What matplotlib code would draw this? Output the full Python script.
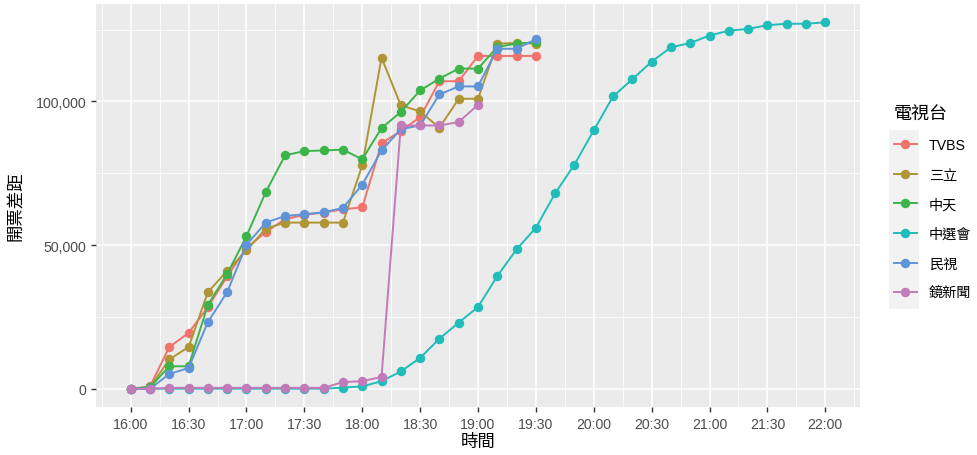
import matplotlib
matplotlib.use("Agg")
import matplotlib.pyplot as plt
from matplotlib.lines import Line2D
from matplotlib.patches import Rectangle
from matplotlib.ticker import FuncFormatter, MultipleLocator

plt.rcParams['font.family'] = ['Liberation Sans', 'Noto Sans CJK TC', 'DejaVu Sans']

# ---------------- data ----------------
times_all = ["16:00", "16:10", "16:20", "16:30", "16:40", "16:50",
             "17:00", "17:10", "17:20", "17:30", "17:40", "17:50",
             "18:00", "18:10", "18:20", "18:30", "18:40", "18:50",
             "19:00", "19:10", "19:20", "19:30", "19:40", "19:50",
             "20:00", "20:10", "20:20", "20:30", "20:40", "20:50",
             "21:00", "21:10", "21:20", "21:30", "21:40", "21:50", "22:00"]

tvbs = [0, 800, 14500, 19400, 28400, 39100, 49000, 54500, 59000, 60500, 61300,
        62400, 63100, 85400, 89700, 94500, 107000, 107000, 115800, 115800,
        115800, 115800]
sanli = [0, 500, 10200, 14500, 33600, 41000, 48100, 55700, 57800, 57800, 57800,
         57800, 77700, 115200, 98600, 96500, 90800, 100900, 100900, 120100,
         120300, 120100]
zhongtian = [0, 500, 7800, 7800, 29200, 39900, 53100, 68400, 81200, 82700, 82900,
             83200, 79800, 90700, 96300, 103800, 107900, 111400, 111400, 118900,
             120100, 120500]
cec = [0, 0, 0, 0, 0, 0, 0, 0, 0, 0, 0, 350, 800, 2600, 6000, 10700, 17400,
       23000, 28400, 39200, 48500, 56000, 68000, 78000, 89900, 101700, 107700,
       113800, 118800, 120300, 122900, 124600, 125200, 126500, 127000, 127000,
       127500]
minshi = [0, 0, 5100, 7200, 23200, 33600, 50100, 57800, 60100, 60700, 61400,
          62900, 71000, 82900, 90300, 91600, 102400, 105200, 105200, 118300,
          118300, 121600]
mirror = [0, 0, 300, 300, 300, 300, 300, 300, 300, 300, 300, 2300, 2600, 4100,
          91600, 91600, 91600, 92800, 98800]

series_names = ["TVBS", "三立", "中天", "中選會", "民視", "鏡新聞"]
series_values = [tvbs, sanli, zhongtian, cec, minshi, mirror]
colors = ["#F0736C", "#AF9535", "#3DB449", "#20BDBA", "#6094D8", "#C27AB9"]

x_tick_labels = ["16:00", "16:30", "17:00", "17:30", "18:00", "18:30", "19:00",
                 "19:30", "20:00", "20:30", "21:00", "21:30", "22:00"]


def to_min(t):
    h, m = t.split(":")
    return (int(h) - 16) * 60 + int(m)


x_all = [to_min(t) for t in times_all]

# ---------------- figure ----------------
fig = plt.figure(figsize=(9.78, 4.56), dpi=100)
W, H = 978, 456
ax = fig.add_axes([96 / W, (H - 408) / H, (860 - 96) / W, (408 - 5) / H])
ax.set_facecolor("#EBEBEB")
for s in ax.spines.values():
    s.set_visible(False)

ax.set_xlim(-18, 378)
ax.set_ylim(-6375, 133875)

ax.xaxis.set_minor_locator(MultipleLocator(15))
ax.yaxis.set_major_locator(MultipleLocator(50000))
ax.yaxis.set_minor_locator(MultipleLocator(25000))
ax.set_xticks([to_min(t) for t in x_tick_labels])
ax.set_xticklabels(x_tick_labels)
ax.yaxis.set_major_formatter(FuncFormatter(lambda v, p: f"{int(v):,}"))

ax.grid(which="major", color="white", linewidth=1.2)
ax.grid(which="minor", color="white", linewidth=0.6)
ax.set_axisbelow(True)
ax.tick_params(which="major", length=3.6, width=1.0, color="#333333",
               labelcolor="#4D4D4D", labelsize=10.2, pad=3.3)
ax.tick_params(which="minor", length=0)

for name, vals, c in zip(series_names, series_values, colors):
    ax.plot(x_all[:len(vals)], vals, color=c, linewidth=1.4, marker="o",
            markersize=5.8, label=name, solid_capstyle="butt")

ax.set_xlabel("時間", fontsize=12.5, color="black")
ax.xaxis.label.set_va("center")
ax.xaxis.set_label_coords(0.5, (408 - 442) / 403)
ax.set_ylabel("開票差距", fontsize=12.5, color="black")
ax.yaxis.label.set_va("center")
ax.yaxis.set_label_coords((15 - 96) / 764, 0.5)

# legend
handles = [Line2D([0], [0], color=c, linewidth=1.4, marker="o", markersize=5.8)
           for c in colors]
fig.patches.append(Rectangle((889 / W, (H - 310) / H), 30 / W, 179 / H,
                             transform=fig.transFigure, facecolor="#F2F2F2",
                             edgecolor="none", zorder=0))
leg = fig.legend(handles, series_names, loc="upper left",
                 bbox_to_anchor=(888 / W, (H - 101) / H), frameon=False,
                 title="電視台", title_fontsize=13, fontsize=10.2,
                 handlelength=1.62, handletextpad=0.85, labelspacing=1.1,
                 alignment="left", borderaxespad=0)
for t in leg.get_texts():
    t.set_color("black")

fig.savefig("out.png", dpi=100)
